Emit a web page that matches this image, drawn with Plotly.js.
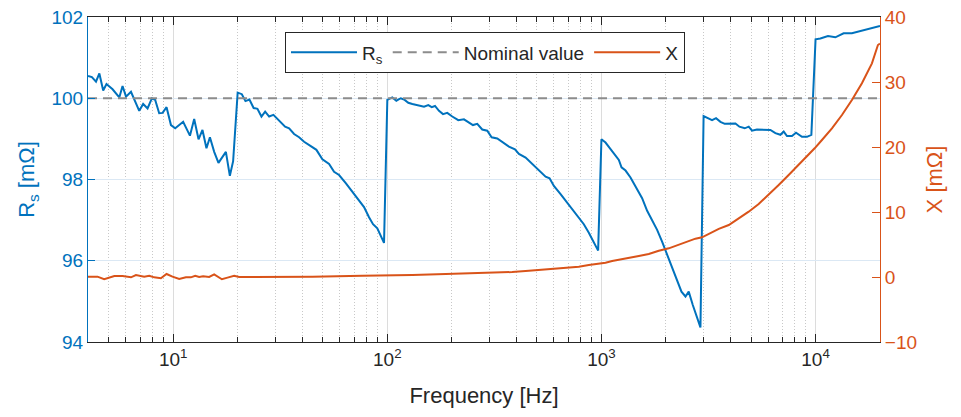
<!DOCTYPE html>
<html>
<head>
<meta charset="utf-8">
<script src="https://cdn.plot.ly/plotly-3.0.1.min.js"></script>
<style>html,body{margin:0;padding:0;background:#fff}#chart{width:961px;height:417px}</style>
</head>
<body>
<div id="chart"></div>
<script>
// Series resistance Rs [mΩ] vs frequency [Hz]
var freqRs = [4.0,4.17,4.36,4.52,4.71,4.88,5.21,5.60,5.80,6.02,6.35,6.58,6.94,7.24,7.59,7.95,8.24,8.60,8.92,9.31,9.76,10.22,10.67,11.13,11.97,12.53,13.13,13.70,14.30,14.84,15.54,16.27,17.62,18.39,19.05,
  20,20.92,21.75,22.70,23.75,24.74,25.83,26.88,28.06,29.38,31.22,33.31,34.78,36.69,38.73,40.86,43.91,46.65,49.75,53.46,56.41,59.52,63.97,68.67,73.79,77.85,82.14,85.76,89.80,93.16,96.52,
  100,105.5,110.2,115.5,119.7,125.3,130.9,140.6,148.4,155.4,161.2,167.0,174.3,182.0,190.5,201.1,214.5,228.0,240.6,251.1,263.0,277.5,292.9,307.0,326.1,344.1,369.8,394.5,411.8,442.4,475.0,510.5,548.5,572.6,599.7,644.5,691.9,730.0,778.5,827.5,873.2,921.4,965.1,
  1000,1045,1103,1164,1206,1241,1296,1367,1432,1495,1549,1635,1725,1820,1920,2026,2138,2232,2365,2469,2557,2671,2766,2900,
  3000,3171,3286,3430,3596,3765,3961,4225,4411,4670,4873,5050,5328,5725,6153,6494,6854,7101,7357,7762,8103,8644,9120,9560,
  10000,10530,11430,12375,13524,14786,15889,17694,19344,20000];
var rs = [100.55,100.52,100.41,100.61,100.19,100.35,100.22,100.02,100.30,100.04,100.16,99.96,99.69,99.86,99.75,100.0,99.96,99.63,99.64,99.78,99.34,99.26,99.34,99.42,99.08,99.49,98.99,99.22,98.77,99.04,98.68,98.41,98.68,98.09,98.45,
  100.14,100.10,99.93,99.97,99.76,99.74,99.55,99.67,99.55,99.59,99.46,99.30,99.26,99.12,99.04,98.93,98.82,98.73,98.50,98.38,98.19,98.11,97.91,97.70,97.48,97.32,97.07,96.90,96.80,96.63,96.44,
  99.96,100.02,99.94,100.0,99.97,99.89,99.86,99.83,99.79,99.83,99.78,99.81,99.69,99.61,99.64,99.55,99.46,99.48,99.40,99.34,99.37,99.23,99.20,99.04,99.01,98.93,98.81,98.74,98.63,98.54,98.38,98.22,98.07,98.03,97.84,97.64,97.43,97.29,97.10,96.90,96.69,96.47,96.25,
  98.99,98.91,98.75,98.58,98.48,98.30,98.22,98.05,97.86,97.66,97.54,97.23,97.00,96.76,96.47,96.14,95.83,95.59,95.24,95.12,95.24,94.91,94.66,94.36,
  99.56,99.51,99.46,99.51,99.42,99.37,99.37,99.38,99.30,99.26,99.30,99.20,99.23,99.22,99.22,99.14,99.10,99.18,99.07,99.07,99.15,99.05,99.05,99.10,
  101.45,101.47,101.53,101.50,101.60,101.60,101.64,101.70,101.76,101.78];

// Reactance X [mΩ] vs frequency [Hz]
var freqX = [4.0,4.43,4.76,5.03,5.31,5.80,6.35,6.70,7.32,7.73,8.15,8.76,9.31,9.92,10.67,11.46,12.09,12.67,13.22,13.80,14.72,15.54,16.88,17.93,19.26,20.32,31.22,44.67,76.43,98.3,130.9,187.3,267.9,383.1,458.3,548.5,784.3,873.2,1045,1122,1250,1495,1664,1853,2063,2297,2557,2748,2951,3171,3532,3933,4378,4873,5425,6041,6726,7489,8338,9286,9904,10713,11928,13284,14786,16466,18337,19559,20000];
var xr = [0.05,0.05,-0.35,-0.05,0.15,0.15,-0.05,0.31,0.05,0.2,-0.05,-0.2,0.46,0.05,-0.31,-0.05,-0.05,0.2,0.0,0.1,0.0,0.41,-0.35,-0.1,0.2,0.0,0.0,0.05,0.2,0.2,0.31,0.46,0.56,0.77,0.97,1.18,1.59,1.85,2.2,2.46,2.72,3.23,3.54,4.05,4.41,5.0,5.59,5.9,6.1,6.6,7.4,8.0,9.03,10.05,11.23,12.62,14.15,15.69,17.23,18.77,19.8,21.08,22.87,24.92,27.23,29.8,32.87,35.69,35.9];

var nominal = 100;
var freqRange = [4, 20000];
var majorTicks = [10, 100, 1000, 10000];
var majorTickText = ['10<sup>1</sup>', '10<sup>2</sup>', '10<sup>3</sup>', '10<sup>4</sup>'];
var rsTicks = [94, 96, 98, 100, 102];
var xTicks = [-10, 0, 10, 20, 30, 40];

var minorTicks = [];
[1, 10, 100, 1000, 10000].forEach(function (d) {
  for (var k = 2; k <= 9; k++) {
    var v = k * d;
    if (v >= freqRange[0] && v <= freqRange[1]) minorTicks.push(v);
  }
});

var blue = '#0072BD', orange = '#D95319';
var font = 'Arial, "Liberation Sans", sans-serif';

var traces = [
  {x: freqRs, y: rs, type: 'scatter', mode: 'lines', name: 'R<sub>s</sub>',
   line: {color: blue, width: 2}, yaxis: 'y'},
  {x: freqRange, y: [nominal, nominal], type: 'scatter', mode: 'lines', name: 'Nominal value',
   line: {color: '#8c8c8c', width: 2, dash: '9px,6px'}, yaxis: 'y'},
  {x: freqX, y: xr, type: 'scatter', mode: 'lines', name: 'X',
   line: {color: orange, width: 2}, yaxis: 'y2'}
];

var layout = {
  width: 961, height: 417,
  margin: {l: 88, r: 81, t: 17, b: 75},
  paper_bgcolor: '#fff', plot_bgcolor: '#fff',
  font: {family: font, size: 19, color: '#262626'},
  showlegend: true,
  legend: {orientation: 'h', x: 0.501, xanchor: 'center', y: 0.953, yanchor: 'top',
           bordercolor: '#262626', borderwidth: 1.2, bgcolor: '#fff',
           font: {family: font, size: 19, color: '#262626'}, itemwidth: 66,
           tracegroupgap: 0},
  xaxis: {type: 'log', range: [Math.log10(freqRange[0]), Math.log10(freqRange[1])],
          tickmode: 'array', tickvals: majorTicks, ticktext: majorTickText,
          ticks: 'inside', ticklen: 8, tickcolor: '#262626', tickwidth: 1,
          showline: true, linecolor: '#262626', linewidth: 1, mirror: 'ticks',
          showgrid: true, gridcolor: '#dcdcdc', gridwidth: 1,
          minor: {tickmode: 'array', tickvals: minorTicks, ticks: 'inside', ticklen: 5,
                  tickcolor: '#262626', showgrid: true, gridcolor: '#c8c8c8', griddash: '1px,2px', gridwidth: 1},
          zeroline: false,
          tickfont: {size: 19, color: '#262626'},
          title: {text: 'Frequency [Hz]', font: {size: 22, color: '#262626'}, standoff: 18}},
  yaxis: {range: [94, 102], tickmode: 'array', tickvals: rsTicks,
          ticks: 'inside', ticklen: 7, tickcolor: blue,
          showline: true, linecolor: blue, linewidth: 1,
          showgrid: true, gridcolor: '#dbe8f4', gridwidth: 1, zeroline: false,
          tickfont: {size: 19, color: blue},
          title: {text: 'R<sub>s</sub> [mΩ]', font: {size: 22, color: blue}, standoff: 10}},
  yaxis2: {range: [-10, 40], tickmode: 'array', tickvals: xTicks, overlaying: 'y', side: 'right',
           ticks: 'inside', ticklen: 8, tickcolor: orange,
           showline: true, linecolor: orange, linewidth: 1,
           showgrid: false, zeroline: false,
           tickfont: {size: 19, color: orange},
           title: {text: 'X [mΩ]', font: {size: 22, color: orange}, standoff: 10}}
};

Plotly.newPlot('chart', traces, layout, {staticPlot: true, displayModeBar: false});
</script>
</body>
</html>
